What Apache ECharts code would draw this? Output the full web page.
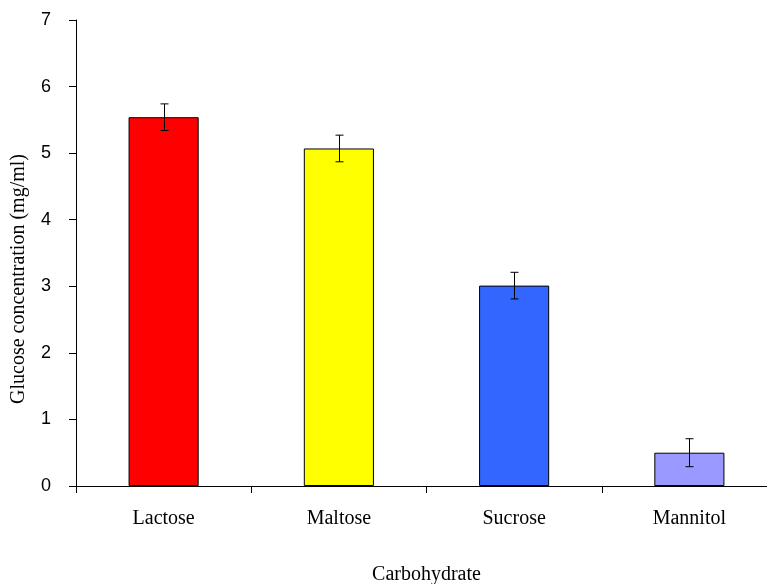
<!DOCTYPE html>
<html><head><meta charset="utf-8">
<script src="https://cdn.jsdelivr.net/npm/echarts@6/dist/echarts.min.js"></script>
<style>html,body{margin:0;padding:0;background:#fff}#c{width:767px;height:584px}</style>
</head><body><div id="c"></div>
<script>
var categories = ['Lactose', 'Maltose', 'Sucrose', 'Mannitol'];
var values = [5.54, 5.07, 3.01, 0.5];
var errors = [0.2, 0.2, 0.2, 0.21];
var colors = ['#FF0000', '#FFFF00', '#3366FF', '#9999FF'];
var yTicks = [0, 1, 2, 3, 4, 5, 6, 7];

var chart = echarts.init(document.getElementById('c'));
chart.setOption({
  animation: false,
  grid: {left: 76, right: -10, top: 20, bottom: 98, containLabel: false, outerBoundsMode: 'none'},
  xAxis: {
    type: 'category', data: categories,
    name: 'Carbohydrate', nameLocation: 'middle', nameGap: 79,
    nameTextStyle: {fontFamily: 'Liberation Serif', fontSize: 20, color: '#000'},
    axisLine: {lineStyle: {color: '#000', width: 1}},
    axisTick: {show: true, length: 7, lineStyle: {color: '#000'}},
    axisLabel: {fontFamily: 'Liberation Serif', fontSize: 20, color: '#000', margin: 23}
  },
  yAxis: {
    type: 'value', min: 0, max: 7, interval: 1,
    name: 'Glucose concentration (mg/ml)', nameLocation: 'middle', nameGap: 47, nameRotate: 90,
    nameTextStyle: {fontFamily: 'Liberation Serif', fontSize: 20, color: '#000', padding: [0, 52, 0, 0]},
    axisLine: {show: true, lineStyle: {color: '#000', width: 1}},
    axisTick: {show: true, length: 7, lineStyle: {color: '#000'}},
    splitLine: {show: false},
    axisLabel: {fontFamily: 'Liberation Sans', fontSize: 18, color: '#000', margin: 25,
      formatter: function (v) { return yTicks.indexOf(v) >= 0 ? String(v) : ''; }}
  },
  series: [{
    type: 'bar', barWidth: '40%',
    data: values.map(function (v, i) {
      return {value: v, itemStyle: {color: colors[i], borderColor: '#000', borderWidth: 1}};
    })
  }, {
    type: 'custom',
    data: values.map(function (v, i) { return [i, v - errors[i], v + errors[i]]; }),
    renderItem: function (params, api) {
      var lo = api.coord([api.value(0), api.value(1)]);
      var hi = api.coord([api.value(0), api.value(2)]);
      var x = Math.round(lo[0]) + 0.5, h = 4;
      var st = {stroke: '#000', lineWidth: 1};
      return {type: 'group', children: [
        {type: 'line', shape: {x1: x, y1: hi[1], x2: x, y2: lo[1]}, style: st},
        {type: 'line', shape: {x1: x - h, y1: hi[1], x2: x + h, y2: hi[1]}, style: st},
        {type: 'line', shape: {x1: x - h, y1: lo[1], x2: x + h, y2: lo[1]}, style: st}
      ]};
    },
    z: 10
  }]
});
</script></body></html>
